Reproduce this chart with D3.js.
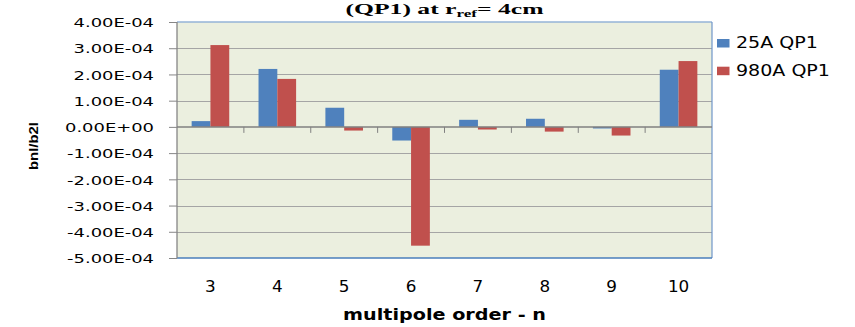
<!DOCTYPE html>
<html>
<head>
<meta charset="utf-8">
<script src="https://cdn.jsdelivr.net/npm/d3@7"></script>
<style>
  body { margin: 0; background: #fff; }
  svg { display: block; }
</style>
</head>
<body>
<svg id="chart"></svg>
<script>
// chart data
const categories = ["3", "4", "5", "6", "7", "8", "9", "10"];
const seriesNames = ["25A QP1", "980A QP1"];
const values25A = [2.2e-5, 2.21e-4, 7.3e-5, -5.2e-5, 2.7e-5, 3.1e-5, -6e-6, 2.18e-4];
const values980A = [3.12e-4, 1.83e-4, -1.4e-5, -4.53e-4, -1.0e-5, -1.8e-5, -3.3e-5, 2.51e-4];
const yTicks = [-5e-4, -4e-4, -3e-4, -2e-4, -1e-4, 0, 1e-4, 2e-4, 3e-4, 4e-4];
const colors = ["#4F81BD", "#C0504D"];

const width = 855, height = 327;
const plot = { left: 177, right: 712, top: 22, bottom: 258 };

const svg = d3.select("#chart")
  .attr("width", width)
  .attr("height", height);

// scales
const x0 = d3.scaleBand()
  .domain(categories)
  .range([plot.left, plot.right]);

const x1 = d3.scaleBand()
  .domain(seriesNames)
  .range([x0.bandwidth() * 0.219, x0.bandwidth() * 0.781]);

const y = d3.scaleLinear()
  .domain([-5e-4, 4e-4])
  .range([plot.bottom, plot.top]);

// 4.00E-04 style labels
const fmt = v => {
  if (v === 0) return "0.00E+00";
  const [m, e] = v.toExponential(2).split("e");
  const ex = +e;
  return m + "E" + (ex < 0 ? "-" : "+") + String(Math.abs(ex)).padStart(2, "0");
};

// plot area background
svg.append("rect")
  .attr("x", plot.left)
  .attr("y", plot.top)
  .attr("width", plot.right - plot.left)
  .attr("height", plot.bottom - plot.top)
  .attr("fill", "#EBEFDF");

// gridlines
svg.append("g")
  .selectAll("line")
  .data(yTicks.filter(v => v !== 0 && v !== 4e-4 && v !== -5e-4))
  .join("line")
  .attr("x1", plot.left)
  .attr("x2", plot.right)
  .attr("y1", d => Math.round(y(d)) + 0.5)
  .attr("y2", d => Math.round(y(d)) + 0.5)
  .attr("stroke", "#A5A5A5")
  .attr("stroke-width", 1);

// borders
svg.append("line") // top
  .attr("x1", plot.left).attr("x2", plot.right)
  .attr("y1", plot.top).attr("y2", plot.top)
  .attr("stroke", "#95B3D7").attr("stroke-width", 1.5);
svg.append("line") // right
  .attr("x1", plot.right).attr("x2", plot.right)
  .attr("y1", plot.top).attr("y2", plot.bottom)
  .attr("stroke", "#6F95C9").attr("stroke-width", 1.2);
svg.append("line") // bottom
  .attr("x1", plot.left).attr("x2", plot.right)
  .attr("y1", plot.bottom).attr("y2", plot.bottom)
  .attr("stroke", "#4A7EBB").attr("stroke-width", 1.5);

// bars
const data = categories.map((c, i) => ({ cat: c, vals: [values25A[i], values980A[i]] }));

svg.append("g")
  .selectAll("g")
  .data(data)
  .join("g")
  .attr("transform", d => `translate(${x0(d.cat)},0)`)
  .selectAll("rect")
  .data(d => d.vals.map((v, j) => ({ name: seriesNames[j], v: v, j: j })))
  .join("rect")
  .attr("x", d => x1(d.name))
  .attr("width", x1.bandwidth())
  .attr("y", d => Math.min(y(d.v), y(0)))
  .attr("height", d => Math.abs(y(d.v) - y(0)))
  .attr("fill", d => colors[d.j]);

// y axis
const yAxis = d3.axisLeft(y)
  .tickValues(yTicks)
  .tickSize(8)
  .tickFormat(fmt);

const gy = svg.append("g")
  .attr("transform", `translate(${plot.left},0)`)
  .call(yAxis);
gy.select(".domain").remove();
gy.selectAll(".tick line").attr("stroke", "#868686");
gy.selectAll(".tick text")
  .attr("font-family", "DejaVu Sans, Verdana, sans-serif")
  .attr("font-size", 13)
  .attr("fill", "#000")
  .attr("x", null)
  .attr("dy", "0.36em");
// the labels are stretched sideways in the reference
const natW = gy.select(".tick text").node().getBBox().width;
const sy = 87 / natW;
gy.selectAll(".tick text")
  .attr("transform", `translate(-23,0) scale(${sy},1)`);

svg.append("line") // left axis line
  .attr("x1", plot.left).attr("x2", plot.left)
  .attr("y1", plot.top).attr("y2", plot.bottom)
  .attr("stroke", "#868686").attr("stroke-width", 1.3);

// zero line with category ticks
svg.append("line")
  .attr("x1", plot.left).attr("x2", plot.right)
  .attr("y1", y(0)).attr("y2", y(0))
  .attr("stroke", "#808080").attr("stroke-width", 1.5);

svg.append("g")
  .selectAll("line")
  .data(categories.slice(1))
  .join("line")
  .attr("x1", d => x0(d)).attr("x2", d => x0(d))
  .attr("y1", y(0)).attr("y2", y(0) + 6)
  .attr("stroke", "#808080");

// x category labels
svg.append("g")
  .selectAll("text")
  .data(categories)
  .join("text")
  .attr("transform", d => `translate(${x0(d) + x0.bandwidth() / 2},292) scale(1.12,1)`)
  .attr("text-anchor", "middle")
  .attr("font-family", "DejaVu Sans, Verdana, sans-serif")
  .attr("font-size", 15)
  .text(d => d);

// stretch a text to a given width around its anchor
function fitWidth(sel, target) {
  const w = sel.node().getBBox().width;
  sel.attr("transform", sel.attr("transform") + ` scale(${target / w},1)`);
}

// x axis title
const xt = svg.append("text")
  .attr("transform", "translate(444.5,320)")
  .attr("text-anchor", "middle")
  .attr("font-family", "DejaVu Sans, Verdana, sans-serif")
  .attr("font-weight", "bold")
  .attr("font-size", 16)
  .text("multipole order - n");
fitWidth(xt, 203);

// y axis title
const yt = svg.append("text")
  .attr("transform", "translate(38,146) rotate(-90)")
  .attr("text-anchor", "middle")
  .attr("font-family", "Liberation Sans, Arial, sans-serif")
  .attr("font-weight", "bold")
  .attr("font-size", 12)
  .text("bnl/b2l");
fitWidth(yt, 48);

// chart title (upper part is cut off in the reference)
const tt = svg.append("text")
  .attr("transform", "translate(444.5,13.5)")
  .attr("text-anchor", "middle")
  .attr("font-family", "Liberation Serif, Times New Roman, serif")
  .attr("font-weight", "bold")
  .attr("font-size", 15);
tt.append("tspan").text("(QP1) at r");
tt.append("tspan").attr("font-size", 10).attr("dy", 3).text("ref");
tt.append("tspan").attr("dy", -3).text("= 4cm");
fitWidth(tt, 199);

// legend
const legend = svg.append("g")
  .selectAll("g")
  .data(seriesNames)
  .join("g")
  .attr("transform", (d, i) => `translate(717,${39 + i * 27.7})`);

legend.append("rect")
  .attr("width", 12.5)
  .attr("height", 8.5)
  .attr("fill", (d, i) => colors[i]);

legend.append("text")
  .attr("transform", "translate(19,9.3)")
  .attr("font-family", "DejaVu Sans, Verdana, sans-serif")
  .attr("font-size", 16)
  .text(d => d)
  .each(function () {
    const w = this.getBBox().width;
    const target = w * 1.19;
    d3.select(this).attr("transform", `translate(19,9.3) scale(${target / w},1)`);
  });
</script>
</body>
</html>
